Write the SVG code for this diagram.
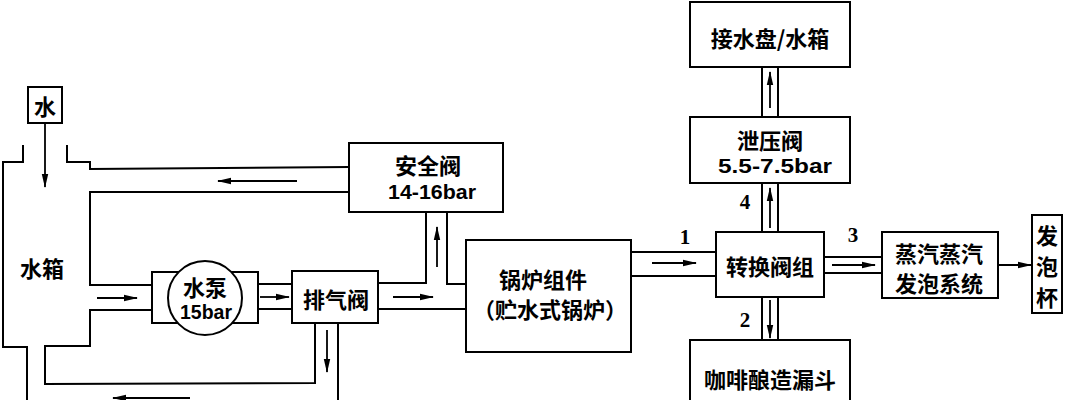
<svg xmlns="http://www.w3.org/2000/svg" width="1073" height="400" viewBox="0 0 1073 400">
<style>
.box{fill:#fff;stroke:#000;stroke-width:2}
.pipe{fill:none;stroke:#000;stroke-width:2;stroke-linejoin:miter}
.arr{fill:none;stroke:#000;stroke-width:1.8;marker-end:url(#ah)}
.cn{font-family:"Noto Sans CJK SC","Noto Sans CJK JP",sans-serif;font-weight:700;font-size:22px;fill:#000;text-anchor:middle;dominant-baseline:central}
.num{font-family:"Liberation Sans",Arial,sans-serif;font-weight:700;font-size:20px;fill:#000;text-anchor:middle;dominant-baseline:central}
.lab{font-family:"Liberation Serif","Times New Roman",serif;font-weight:700;font-size:21px;fill:#000;text-anchor:middle;dominant-baseline:central}
</style>
<defs>
<marker id="ah" markerWidth="14" markerHeight="8" refX="13" refY="4" orient="auto" markerUnits="userSpaceOnUse">
<path d="M0,0.8 L14,4 L0,7.2 Z" fill="#000"/>
</marker>
</defs>

<g id="connectors">
<path class="pipe" d="M23,145 V162 H3 V347 H27 V400"/>
<path class="pipe" d="M67,145 V162 H90 V169 L350,167"/>
<path class="pipe" d="M350,192 H90 V285 H152"/>
<path class="pipe" d="M152,310 H90 V346 H45 V384 L315,383 V323"/>
<path class="pipe" d="M338,323 V400"/>
<path class="pipe" d="M258,284 H292"/>
<path class="pipe" d="M258,309 H292"/>
<path class="pipe" d="M378,283 H426 V212"/>
<path class="pipe" d="M447,212 V284 H466"/>
<path class="pipe" d="M378,309 H466"/>
<path class="pipe" d="M631,240 V252 H716"/>
<path class="pipe" d="M631,276 H716"/>
<path class="pipe" d="M762,67 V117 M778,67 V117"/>
<path class="pipe" d="M762,183 V232 M778,183 V232"/>
<path class="pipe" d="M762,297 V340 M778,297 V340"/>
<path class="pipe" d="M824,257 H882 M824,273 H882"/>
<line class="arr" x1="45" y1="123" x2="45" y2="187"/>
<line class="arr" x1="297" y1="181" x2="218" y2="181"/>
<line class="arr" x1="97" y1="298" x2="137" y2="298"/>
<line class="arr" x1="260" y1="297" x2="289" y2="297"/>
<line class="arr" x1="393" y1="297" x2="433" y2="297"/>
<line class="arr" x1="437" y1="267" x2="437" y2="227"/>
<line class="arr" x1="327" y1="330" x2="327" y2="372"/>
<line class="arr" x1="190" y1="398" x2="113" y2="398"/>
<line class="arr" x1="652" y1="263" x2="696" y2="263"/>
<line class="arr" x1="832" y1="265" x2="875" y2="265"/>
<line class="arr" x1="998" y1="265" x2="1031" y2="265"/>
<line class="arr" x1="770" y1="228" x2="770" y2="188"/>
<line class="arr" x1="770" y1="108" x2="770" y2="72"/>
<line class="arr" x1="770" y1="300" x2="770" y2="338"/>
<text class="lab" x="685" y="237">1</text>
<text class="lab" x="745" y="320">2</text>
<text class="lab" x="853" y="235">3</text>
<text class="lab" x="745" y="202">4</text>
</g>

<g id="water-in">
<rect class="box" x="28" y="87" width="34" height="36"/>
<text class="cn" x="45" y="105">水</text>
</g>
<g id="tank">
<text class="cn" x="42" y="267">水箱</text>
</g>
<g id="pump">
<rect class="box" x="152" y="272" width="106" height="51"/>
<circle class="box" cx="205" cy="298" r="37"/>
<text class="cn" x="205" y="286">水泵</text>
<text class="num" x="206" y="312" textLength="52" lengthAdjust="spacingAndGlyphs" font-size="22">15bar</text>
</g>
<g id="exhaust-valve">
<rect class="box" x="292" y="271" width="86" height="52"/>
<text class="cn" x="336" y="298">排气阀</text>
</g>
<g id="safety-valve">
<rect class="box" x="349" y="143" width="154" height="69"/>
<text class="cn" x="428" y="164">安全阀</text>
<text class="num" x="432" y="192" textLength="88" lengthAdjust="spacingAndGlyphs">14-16bar</text>
</g>
<g id="boiler">
<rect class="box" x="466" y="240" width="165" height="112"/>
<text class="cn" x="543" y="278">锅炉组件</text>
<text class="cn" x="550" y="308">（贮水式锅炉）</text>
</g>
<g id="tray">
<rect class="box" x="690" y="2" width="160" height="65"/>
<text class="cn" x="770" y="37">接水盘/水箱</text>
</g>
<g id="relief-valve">
<rect class="box" x="690" y="117" width="160" height="66"/>
<text class="cn" x="770" y="139">泄压阀</text>
<text class="num" x="775" y="166" textLength="114" lengthAdjust="spacingAndGlyphs">5.5-7.5bar</text>
</g>
<g id="switch-valve">
<rect class="box" x="716" y="232" width="108" height="65"/>
<text class="cn" x="770" y="265">转换阀组</text>
</g>
<g id="steam-system">
<rect class="box" x="882" y="232" width="116" height="66"/>
<text class="cn" x="939" y="252">蒸汽蒸汽</text>
<text class="cn" x="939" y="282">发泡系统</text>
</g>
<g id="froth-cup">
<rect class="box" x="1032" y="215" width="30" height="98"/>
<text class="cn" x="1047" y="234">发</text>
<text class="cn" x="1047" y="265">泡</text>
<text class="cn" x="1047" y="296">杯</text>
</g>
<g id="brew-funnel">
<rect class="box" x="690" y="340" width="160" height="70"/>
<text class="cn" x="770" y="378">咖啡酿造漏斗</text>
</g>
</svg>
